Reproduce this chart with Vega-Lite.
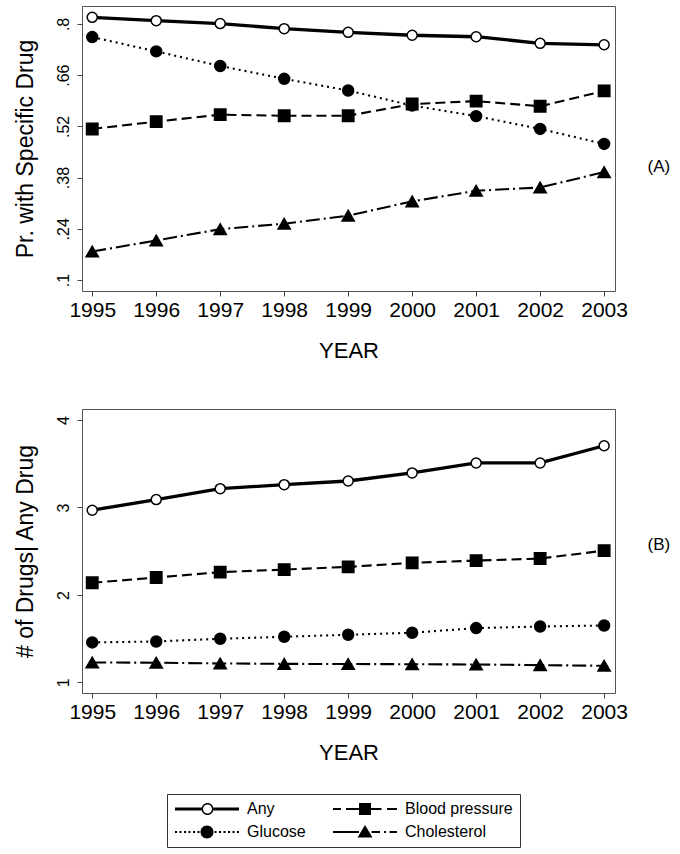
{
  "$schema": "https://vega.github.io/schema/vega-lite/v6.json",
  "padding": {"left": 13, "top": 5, "right": 5, "bottom": 5},
  "background": "white",
  "datasets": {
    "A": [
      {"year": 1995, "series": "Any", "value": 0.818},
      {"year": 1996, "series": "Any", "value": 0.809},
      {"year": 1997, "series": "Any", "value": 0.801},
      {"year": 1998, "series": "Any", "value": 0.787},
      {"year": 1999, "series": "Any", "value": 0.777},
      {"year": 2000, "series": "Any", "value": 0.769},
      {"year": 2001, "series": "Any", "value": 0.765},
      {"year": 2002, "series": "Any", "value": 0.747},
      {"year": 2003, "series": "Any", "value": 0.743},
      {"year": 1995, "series": "Glucose", "value": 0.764},
      {"year": 1996, "series": "Glucose", "value": 0.725},
      {"year": 1997, "series": "Glucose", "value": 0.685},
      {"year": 1998, "series": "Glucose", "value": 0.650},
      {"year": 1999, "series": "Glucose", "value": 0.618},
      {"year": 2000, "series": "Glucose", "value": 0.577},
      {"year": 2001, "series": "Glucose", "value": 0.548},
      {"year": 2002, "series": "Glucose", "value": 0.513},
      {"year": 2003, "series": "Glucose", "value": 0.472},
      {"year": 1995, "series": "Blood pressure", "value": 0.513},
      {"year": 1996, "series": "Blood pressure", "value": 0.533},
      {"year": 1997, "series": "Blood pressure", "value": 0.552},
      {"year": 1998, "series": "Blood pressure", "value": 0.549},
      {"year": 1999, "series": "Blood pressure", "value": 0.549},
      {"year": 2000, "series": "Blood pressure", "value": 0.581},
      {"year": 2001, "series": "Blood pressure", "value": 0.589},
      {"year": 2002, "series": "Blood pressure", "value": 0.575},
      {"year": 2003, "series": "Blood pressure", "value": 0.617},
      {"year": 1995, "series": "Cholesterol", "value": 0.178},
      {"year": 1996, "series": "Cholesterol", "value": 0.208},
      {"year": 1997, "series": "Cholesterol", "value": 0.239},
      {"year": 1998, "series": "Cholesterol", "value": 0.254},
      {"year": 1999, "series": "Cholesterol", "value": 0.276},
      {"year": 2000, "series": "Cholesterol", "value": 0.315},
      {"year": 2001, "series": "Cholesterol", "value": 0.344},
      {"year": 2002, "series": "Cholesterol", "value": 0.353},
      {"year": 2003, "series": "Cholesterol", "value": 0.395}
    ],
    "B": [
      {"year": 1995, "series": "Any", "value": 2.969},
      {"year": 1996, "series": "Any", "value": 3.090},
      {"year": 1997, "series": "Any", "value": 3.215},
      {"year": 1998, "series": "Any", "value": 3.261},
      {"year": 1999, "series": "Any", "value": 3.303},
      {"year": 2000, "series": "Any", "value": 3.395},
      {"year": 2001, "series": "Any", "value": 3.509},
      {"year": 2002, "series": "Any", "value": 3.509},
      {"year": 2003, "series": "Any", "value": 3.706},
      {"year": 1995, "series": "Blood pressure", "value": 2.139},
      {"year": 1996, "series": "Blood pressure", "value": 2.199},
      {"year": 1997, "series": "Blood pressure", "value": 2.261},
      {"year": 1998, "series": "Blood pressure", "value": 2.290},
      {"year": 1999, "series": "Blood pressure", "value": 2.321},
      {"year": 2000, "series": "Blood pressure", "value": 2.367},
      {"year": 2001, "series": "Blood pressure", "value": 2.393},
      {"year": 2002, "series": "Blood pressure", "value": 2.416},
      {"year": 2003, "series": "Blood pressure", "value": 2.507},
      {"year": 1995, "series": "Glucose", "value": 1.457},
      {"year": 1996, "series": "Glucose", "value": 1.468},
      {"year": 1997, "series": "Glucose", "value": 1.499},
      {"year": 1998, "series": "Glucose", "value": 1.522},
      {"year": 1999, "series": "Glucose", "value": 1.545},
      {"year": 2000, "series": "Glucose", "value": 1.568},
      {"year": 2001, "series": "Glucose", "value": 1.621},
      {"year": 2002, "series": "Glucose", "value": 1.639},
      {"year": 2003, "series": "Glucose", "value": 1.651},
      {"year": 1995, "series": "Cholesterol", "value": 1.228},
      {"year": 1996, "series": "Cholesterol", "value": 1.225},
      {"year": 1997, "series": "Cholesterol", "value": 1.217},
      {"year": 1998, "series": "Cholesterol", "value": 1.212},
      {"year": 1999, "series": "Cholesterol", "value": 1.210},
      {"year": 2000, "series": "Cholesterol", "value": 1.208},
      {"year": 2001, "series": "Cholesterol", "value": 1.205},
      {"year": 2002, "series": "Cholesterol", "value": 1.198},
      {"year": 2003, "series": "Cholesterol", "value": 1.190}
    ]
  },
  "config": {
    "font": "Liberation Sans",
    "view": {"stroke": "#555555", "strokeWidth": 1},
    "axis": {
      "grid": false,
      "domain": false,
      "tickColor": "#444444",
      "tickSize": 5,
      "labelColor": "black",
      "titleColor": "black",
      "labelFont": "Liberation Sans",
      "titleFont": "Liberation Sans",
      "titleFontWeight": "normal"
    }
  },
  "vconcat": [
    {
      "width": 533,
      "height": 285,
      "data": {"name": "A"},
      "resolve": {"axis": {"y": "independent"}},
      "encoding": {
        "x": {"field": "year", "type": "quantitative", "scale": {"domain": [1994.84, 2003.17], "nice": false, "zero": false},
          "axis": {"values": [1995, 1996, 1997, 1998, 1999, 2000, 2001, 2002, 2003], "format": "d", "labelFontSize": 21, "labelPadding": 3, "title": "YEAR", "titleFontSize": 22, "titlePadding": 20}}
      },
      "layer": [
        {
          "transform": [{"filter": "datum.series === 'Any'"}],
          "mark": {"type": "line", "color": "black", "strokeWidth": 3.3},
          "encoding": {
            "y": {"field": "value", "type": "quantitative", "scale": {"domain": [0.07, 0.849], "nice": false, "zero": false},
              "axis": {"values": [0.1, 0.24, 0.38, 0.52, 0.66, 0.8], "labelExpr": "replace(format(datum.value, '.2~f'), '0.', '.')", "labelAngle": -90, "labelAlign": "center", "labelBaseline": "alphabetic", "labelFontSize": 16, "labelPadding": 9, "title": "Pr. with Specific Drug", "titleFontSize": 23, "titlePadding": 18}}
          }
        },
        {
          "transform": [{"filter": "datum.series !== 'Any'"}],
          "mark": {"type": "line", "color": "black", "strokeWidth": 2.1},
          "encoding": {
            "y": {"field": "value", "type": "quantitative", "axis": null},
            "strokeDash": {"field": "series", "type": "nominal",
              "scale": {"domain": ["Blood pressure", "Glucose", "Cholesterol"], "range": [[10, 5], [2, 4], [14, 4, 2, 4]]}, "legend": null}
          }
        },
        {
          "mark": {"type": "point", "filled": true, "stroke": "black", "strokeWidth": 1.5, "opacity": 1},
          "encoding": {
            "y": {"field": "value", "type": "quantitative",
              "axis": {"orient": "right", "title": "(A)", "labels": false, "ticks": false, "domain": false, "titleAngle": 0, "titleAlign": "left", "titleBaseline": "middle", "titleX": 32, "titleY": 160, "titleFontSize": 17}},
            "shape": {"field": "series", "type": "nominal", "scale": {"domain": ["Any", "Glucose", "Blood pressure", "Cholesterol"], "range": ["circle", "circle", "square", "triangle-up"]}, "legend": null},
            "fill": {"field": "series", "type": "nominal", "scale": {"domain": ["Glucose", "Any", "Blood pressure", "Cholesterol"], "range": ["black", "white", "black", "black"]}, "legend": null},
            "size": {"field": "series", "type": "nominal", "scale": {"type": "ordinal", "domain": ["Cholesterol", "Any", "Blood pressure", "Glucose"], "range": [150, 100, 130, 120]}, "legend": null}
          }
        }
      ]
    },
    {
      "width": 533,
      "height": 284,
      "data": {"name": "B"},
      "resolve": {"axis": {"y": "independent"}, "scale": {"shape": "independent"}},
      "encoding": {
        "x": {"field": "year", "type": "quantitative", "scale": {"domain": [1994.84, 2003.17], "nice": false, "zero": false},
          "axis": {"values": [1995, 1996, 1997, 1998, 1999, 2000, 2001, 2002, 2003], "format": "d", "labelFontSize": 21, "labelPadding": 3, "title": "YEAR", "titleFontSize": 22, "titlePadding": 20}}
      },
      "layer": [
        {
          "transform": [{"filter": "datum.series === 'Any'"}],
          "mark": {"type": "line", "color": "black", "strokeWidth": 3.3},
          "encoding": {
            "y": {"field": "value", "type": "quantitative", "scale": {"domain": [0.879, 4.126], "nice": false, "zero": false},
              "axis": {"values": [1, 2, 3, 4], "format": "d", "labelAngle": -90, "labelAlign": "center", "labelBaseline": "alphabetic", "labelFontSize": 16, "labelPadding": 9, "title": "# of Drugs| Any Drug", "titleFontSize": 23, "titlePadding": 18}}
          }
        },
        {
          "transform": [{"filter": "datum.series !== 'Any'"}],
          "mark": {"type": "line", "color": "black", "strokeWidth": 2.1},
          "encoding": {
            "y": {"field": "value", "type": "quantitative", "axis": null},
            "strokeDash": {"field": "series", "type": "nominal",
              "scale": {"domain": ["Blood pressure", "Glucose", "Cholesterol"], "range": [[10, 5], [2, 4], [14, 4, 2, 4]]}, "legend": null}
          }
        },
        {
          "mark": {"type": "point", "filled": true, "stroke": "black", "strokeWidth": 1.5, "opacity": 1},
          "encoding": {
            "y": {"field": "value", "type": "quantitative",
              "axis": {"orient": "right", "title": "(B)", "labels": false, "ticks": false, "domain": false, "titleAngle": 0, "titleAlign": "left", "titleBaseline": "middle", "titleX": 32, "titleY": 135, "titleFontSize": 17}},
            "shape": {"field": "series", "type": "nominal", "scale": {"domain": ["Any", "Glucose", "Blood pressure", "Cholesterol"], "range": ["circle", "circle", "square", "triangle-up"]}, "legend": null},
            "fill": {"field": "series", "type": "nominal", "scale": {"domain": ["Glucose", "Any", "Blood pressure", "Cholesterol"], "range": ["black", "white", "black", "black"]}, "legend": null},
            "size": {"field": "series", "type": "nominal", "scale": {"type": "ordinal", "domain": ["Cholesterol", "Any", "Blood pressure", "Glucose"], "range": [150, 100, 130, 120]}, "legend": null}
          }
        },
        {
          "mark": {"type": "point", "filled": true, "color": "black", "stroke": "black", "strokeWidth": 1.5, "opacity": 0},
          "encoding": {
            "y": {"field": "value", "type": "quantitative", "axis": null},
            "shape": {"field": "series", "type": "nominal",
              "scale": {"domain": ["Any", "Blood pressure", "Glucose", "Cholesterol"],
                "range": [
                  "M-1.4,-0.3H3.9V0.3H-1.4ZM6.3,-0.3H11.4V0.3H6.3ZM6.3,0A1.2,1.2,0,1,0,3.9,0A1.2,1.2,0,1,0,6.3,0ZM6.0,0A0.9,0.9,0,1,1,4.2,0A0.9,0.9,0,1,1,6.0,0Z",
                  "M-1.4,-0.2H0.2V0.2H-1.4ZM1.2,-0.2H3.8V0.2H1.2ZM6.2,-0.2H8.3V0.2H6.2ZM9.4,-0.2H11.4V0.2H9.4ZM3.8,-1.2H6.2V1.2H3.8Z",
                  "M-1.4,-0.2h0.4v0.4h-0.4ZM-0.5,-0.2h0.4v0.4h-0.4ZM0.4,-0.2h0.4v0.4h-0.4ZM1.3,-0.2h0.4v0.4h-0.4ZM2.2,-0.2h0.4v0.4h-0.4ZM3.1,-0.2h0.4v0.4h-0.4ZM6.5,-0.2h0.4v0.4h-0.4ZM7.4,-0.2h0.4v0.4h-0.4ZM8.3,-0.2h0.4v0.4h-0.4ZM9.2,-0.2h0.4v0.4h-0.4ZM10.1,-0.2h0.4v0.4h-0.4ZM11,-0.2h0.4v0.4h-0.4ZM6.3,0A1.3,1.3,0,1,1,3.7,0A1.3,1.3,0,1,1,6.3,0Z",
                  "M-1.4,-0.2H3.8V0.2H-1.4ZM6.3,-0.2H8V0.2H6.3ZM8.8,-0.2H9.2V0.2H8.8ZM9.9,-0.2H11.4V0.2H9.9ZM5,-1.4L6.5,1.1L3.5,1.1Z"
                ]},
              "legend": {
                "title": null, "orient": "none", "legendX": 85, "legendY": 385, "columns": 2, "direction": "horizontal",
                "symbolSize": 100, "symbolStrokeWidth": 0, "symbolFillColor": "black", "symbolStrokeColor": "black", "symbolOpacity": 1,
                "labelFontSize": 16, "labelFont": "Liberation Sans", "labelColor": "black", "labelOffset": 57,
                "columnPadding": 26, "rowPadding": 7, "padding": 7, "strokeColor": "#333333", "fillColor": "white"
              }
            }
          }
        }
      ]
    }
  ],
  "spacing": 46
}
